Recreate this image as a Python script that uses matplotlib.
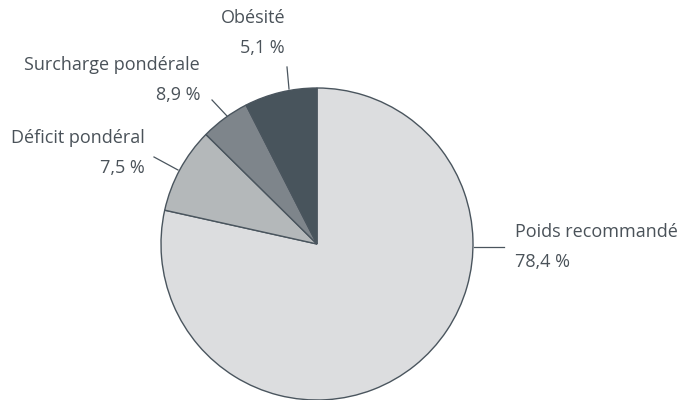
import matplotlib.pyplot as plt

# slices as drawn, clockwise from 12 o'clock
categories = ["Poids recommandé", "Déficit pondéral", "Surcharge pondérale", "Obésité"]
wedge_sizes = [78.4, 8.9, 5.1, 7.5]
# values printed on the labels
label_values = ["78,4 %", "7,5 %", "8,9 %", "5,1 %"]

colors = ["#dcdddf", "#b4b8ba", "#7e858b", "#48545c"]
edge = "#4a555e"
text_color = "#4a5259"

plt.rcParams["font.family"] = ["Open Sans", "DejaVu Sans"]

fig = plt.figure(figsize=(6.8, 4.0), dpi=100)
ax = fig.add_axes([0, 0, 1, 1])

cx, cy, r = 317, 400 - 244, 156
ax.pie(wedge_sizes, colors=colors, startangle=90, counterclock=False,
       center=(cx, cy), radius=r, frame=True,
       wedgeprops=dict(edgecolor=edge, linewidth=1.0))
ax.set_xlim(0, 680)
ax.set_ylim(0, 400)
ax.set_aspect("equal")
ax.axis("off")

# label layout: (text x, first line y, alignment, leader start, leader end) in pixels
layout = [
    (515, 232, "left", (474, 247), (504, 247)),
    (145, 138, "right", (178, 170), (154, 157)),
    (200, 65, "right", (227, 116), (212, 100)),
    (285, 18, "right", (289, 89), (287, 67)),
]

fs = 13
for name, val, (tx, ty, ha, p0, p1) in zip(categories, label_values, layout):
    ax.text(tx, 400 - ty, name, ha=ha, va="center", fontsize=fs, color=text_color)
    ax.text(tx, 400 - ty - 30, val, ha=ha, va="center", fontsize=fs, color=text_color)
    ax.plot([p0[0], p1[0]], [400 - p0[1], 400 - p1[1]], color=edge, linewidth=0.9)

fig.savefig("out.png", dpi=100)
